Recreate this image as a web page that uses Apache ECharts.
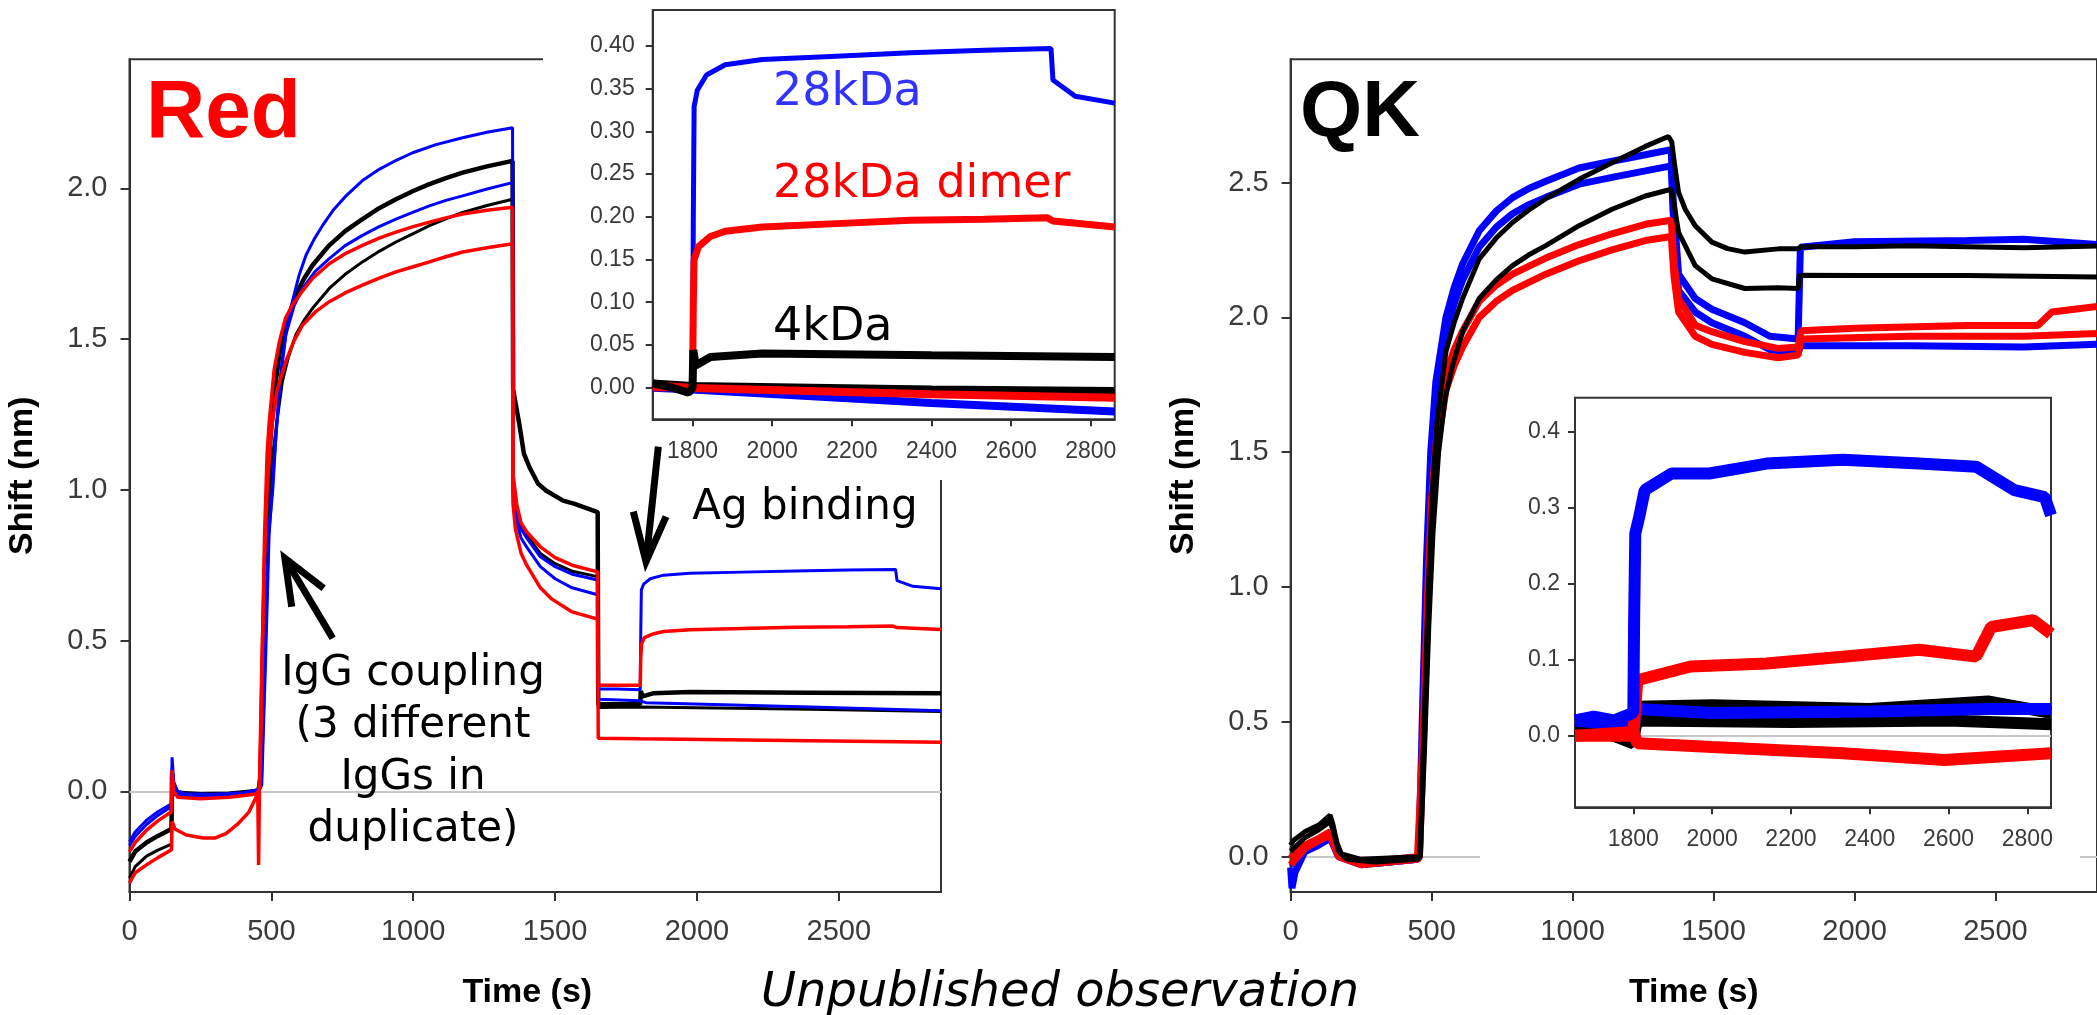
<!DOCTYPE html>
<html>
<head>
<meta charset="utf-8">
<script src="https://cdn.jsdelivr.net/npm/echarts@6/dist/echarts.min.js"></script>
<style>
  html, body { margin: 0; padding: 0; background: #fff; }
  #chart { width: 2097px; height: 1015px; }
</style>
</head>
<body>
<div id="chart"></div>
<script>
// ---- tick values ----
var mainTimeTicks = [0, 500, 1000, 1500, 2000, 2500];
var insetTimeTicks = [1800, 2000, 2200, 2400, 2600, 2800];
var redShiftTicks = [0, 0.5, 1, 1.5, 2];
var qkShiftTicks = [0, 0.5, 1, 1.5, 2, 2.5];
var redInsetTicks = [0, 0.05, 0.1, 0.15, 0.2, 0.25, 0.3, 0.35, 0.4];
var qkInsetTicks = [0, 0.1, 0.2, 0.3, 0.4];

// ---- "Red" panel, [time s, shift nm] ----
var redBlueA = [[0,-0.167],[20,-0.135],[60,-0.096],[100,-0.068],[148,-0.041],[150,0.113],[156,0.03],[170,0.0],[200,-0.008],[300,-0.01],[400,-0.005],[455,0.005],[465,0.03],[478,0.45],[490,0.85],[505,1.0],[516,1.18],[527,1.32],[539,1.44],[555,1.54],[574,1.624],[597,1.71],[622,1.778],[650,1.83],[680,1.876],[720,1.93],[763,1.975],[820,2.025],[880,2.063],[940,2.093],[998,2.118],[1080,2.145],[1174,2.168],[1260,2.186],[1350,2.201],[1352,0.98],[1365,0.91],[1380,0.87],[1400,0.84],[1448,0.778],[1500,0.745],[1560,0.72],[1650,0.701],[1652,0.339],[1720,0.339],[1800,0.337],[1802,0.54],[1804,0.668],[1812,0.687],[1835,0.705],[1882,0.717],[1975,0.723],[2161,0.727],[2347,0.731],[2533,0.734],[2700,0.736],[2705,0.699],[2761,0.68],[2860,0.672]];
var redBlueB = [[0,-0.18],[20,-0.15],[60,-0.11],[100,-0.08],[148,-0.05],[150,0.08],[156,0.01],[170,-0.01],[250,-0.02],[350,-0.015],[440,-0.008],[455,0.0],[466,0.02],[480,0.45],[492,0.85],[510,1.1],[530,1.35],[551,1.514],[580,1.61],[610,1.668],[655,1.725],[704,1.767],[760,1.81],[821,1.844],[880,1.873],[939,1.898],[1000,1.921],[1057,1.942],[1115,1.96],[1174,1.975],[1260,1.998],[1350,2.019],[1352,0.96],[1365,0.89],[1380,0.84],[1400,0.81],[1448,0.745],[1500,0.705],[1560,0.675],[1650,0.652],[1652,0.305],[1800,0.3],[1820,0.294],[2400,0.28],[2860,0.267]];
var redBlackA = [[0,-0.233],[20,-0.2],[60,-0.17],[100,-0.148],[148,-0.125],[150,0.06],[156,0.0],[170,-0.005],[250,-0.01],[350,-0.008],[440,0.0],[455,0.005],[462,0.05],[472,0.5],[482,0.9],[495,1.15],[510,1.32],[530,1.46],[555,1.56],[586,1.646],[615,1.70],[645,1.745],[704,1.811],[760,1.858],[821,1.898],[880,1.934],[939,1.964],[1000,1.991],[1057,2.014],[1115,2.034],[1174,2.052],[1260,2.073],[1350,2.091],[1352,1.333],[1374,1.217],[1390,1.12],[1410,1.074],[1440,1.02],[1469,0.997],[1528,0.964],[1566,0.954],[1650,0.926],[1652,0.289],[1800,0.289],[1802,0.333],[1808,0.315],[1845,0.325],[1975,0.329],[2400,0.327],[2860,0.325]];
var redBlackB = [[0,-0.288],[20,-0.25],[60,-0.215],[100,-0.195],[148,-0.175],[150,0.04],[156,-0.01],[170,-0.012],[250,-0.015],[350,-0.012],[440,-0.005],[455,0.0],[463,0.02],[474,0.45],[485,0.85],[500,1.08],[520,1.23],[539,1.36],[560,1.44],[586,1.514],[615,1.562],[645,1.602],[704,1.668],[760,1.715],[821,1.756],[880,1.791],[939,1.822],[1000,1.85],[1057,1.876],[1115,1.899],[1174,1.92],[1260,1.943],[1350,1.964],[1352,1.0],[1365,0.93],[1380,0.88],[1400,0.85],[1448,0.789],[1500,0.755],[1560,0.73],[1650,0.712],[1652,0.278],[1800,0.28],[2400,0.272],[2860,0.265]];
var redRedA = [[0,-0.2],[20,-0.17],[60,-0.129],[100,-0.098],[148,-0.068],[150,0.07],[156,0.0],[170,-0.02],[250,-0.025],[350,-0.02],[440,-0.01],[455,0.0],[460,0.05],[468,0.45],[476,0.85],[485,1.12],[492,1.22],[510,1.4],[528,1.49],[550,1.57],[574,1.613],[610,1.66],[645,1.701],[704,1.75],[760,1.783],[821,1.811],[880,1.835],[939,1.855],[1000,1.873],[1057,1.888],[1115,1.902],[1174,1.915],[1260,1.927],[1350,1.937],[1352,1.05],[1365,0.95],[1380,0.89],[1400,0.86],[1448,0.811],[1500,0.775],[1560,0.75],[1650,0.728],[1652,0.352],[1800,0.352],[1802,0.45],[1805,0.49],[1815,0.51],[1845,0.522],[1882,0.53],[1975,0.536],[2161,0.54],[2347,0.544],[2533,0.546],[2690,0.548],[2705,0.543],[2860,0.537]];
var redRedB = [[0,-0.304],[20,-0.27],[60,-0.244],[100,-0.22],[148,-0.194],[150,-0.1],[160,-0.125],[200,-0.145],[260,-0.155],[300,-0.155],[340,-0.14],[380,-0.11],[420,-0.07],[446,-0.02],[452,0.0],[455,-0.244],[458,0.02],[466,0.4],[475,0.75],[485,1.0],[500,1.2],[520,1.33],[551,1.426],[580,1.495],[610,1.547],[655,1.59],[704,1.624],[760,1.653],[821,1.679],[880,1.702],[939,1.723],[1000,1.74],[1057,1.756],[1115,1.773],[1174,1.789],[1260,1.803],[1350,1.816],[1352,0.95],[1360,0.87],[1380,0.79],[1400,0.75],[1448,0.675],[1485,0.64],[1560,0.595],[1650,0.571],[1652,0.176],[1800,0.174],[2400,0.168],[2860,0.163]];

// ---- "Red" inset (Ag binding) ----
var agBlue28 = [[1700,0.0],[1750,0.0],[1790,0.0],[1800,0.002],[1802,0.2],[1804,0.329],[1812,0.348],[1835,0.366],[1882,0.378],[1975,0.384],[2161,0.388],[2347,0.392],[2533,0.395],[2700,0.397],[2705,0.36],[2761,0.341],[2860,0.333]];
var agRedDimer = [[1700,0.0],[1800,0.0],[1802,0.1],[1804,0.15],[1815,0.165],[1845,0.177],[1882,0.183],[1975,0.188],[2161,0.192],[2347,0.196],[2533,0.197],[2690,0.199],[2705,0.195],[2860,0.188]];
var agBlack4 = [[1700,0.005],[1750,0.0],[1790,-0.006],[1800,0.0],[1802,0.044],[1808,0.026],[1845,0.036],[1975,0.04],[2400,0.038],[2860,0.036]];
var agBlackRef = [[1700,0.005],[1800,0.002],[2400,-0.002],[2860,-0.004]];
var agRedRef = [[1700,0.003],[1800,-0.0005],[2400,-0.0078],[2860,-0.0117]];
var agBlueRef = [[1700,0.0],[1800,-0.002],[2400,-0.018],[2860,-0.028]];

// ---- "QK" panel ----
var qkBlueA = [[0,-0.04],[5,-0.117],[15,-0.06],[50,0.018],[100,0.043],[140,0.068],[150,0.05],[170,0.0],[250,-0.03],[350,-0.02],[450,-0.01],[455,0.0],[468,0.55],[482,1.1],[497,1.5],[515,1.76],[551,2.0],[580,2.11],[610,2.198],[669,2.321],[730,2.395],[787,2.444],[845,2.478],[905,2.505],[1023,2.554],[1140,2.579],[1258,2.603],[1350,2.622],[1356,2.45],[1376,2.16],[1435,2.07],[1494,2.03],[1611,1.98],[1700,1.93],[1800,1.92],[1808,2.26],[2000,2.28],[2400,2.285],[2600,2.29],[2860,2.27]];
var qkBlueB = [[0,-0.02],[20,-0.03],[50,0.03],[100,0.05],[140,0.07],[170,0.0],[300,-0.025],[450,-0.01],[457,0.0],[470,0.5],[485,1.05],[500,1.45],[515,1.68],[551,1.94],[580,2.05],[610,2.138],[669,2.261],[730,2.335],[787,2.384],[845,2.418],[905,2.445],[1023,2.494],[1140,2.519],[1258,2.543],[1350,2.562],[1356,2.4],[1376,2.1],[1435,2.02],[1494,1.98],[1611,1.93],[1700,1.88],[1800,1.87],[1810,1.895],[2200,1.895],[2600,1.89],[2860,1.9]];
var qkRedA = [[0,-0.006],[50,0.043],[100,0.068],[140,0.092],[150,0.07],[170,0.01],[250,-0.02],[350,-0.01],[450,0.0],[456,0.0],[470,0.45],[485,0.95],[500,1.33],[520,1.58],[551,1.79],[580,1.88],[610,1.95],[669,2.06],[730,2.12],[787,2.16],[905,2.22],[1023,2.27],[1140,2.31],[1258,2.345],[1350,2.36],[1360,2.2],[1376,2.07],[1435,1.971],[1494,1.947],[1611,1.91],[1729,1.885],[1800,1.89],[1810,1.95],[2000,1.96],[2400,1.97],[2650,1.97],[2700,2.02],[2860,2.04]];
var qkRedB = [[0,-0.03],[50,0.03],[100,0.06],[140,0.08],[170,0.0],[250,-0.03],[350,-0.02],[450,-0.01],[457,0.0],[471,0.42],[486,0.9],[501,1.28],[520,1.52],[551,1.73],[580,1.82],[610,1.89],[669,2.0],[730,2.06],[787,2.1],[905,2.16],[1023,2.21],[1140,2.25],[1258,2.285],[1350,2.3],[1360,2.15],[1376,2.02],[1435,1.93],[1494,1.9],[1611,1.87],[1729,1.85],[1800,1.86],[1810,1.92],[2200,1.93],[2600,1.93],[2860,1.94]];
var qkBlackA = [[0,0.043],[10,0.06],[50,0.092],[100,0.117],[140,0.154],[150,0.12],[165,0.05],[180,0.01],[250,-0.01],[350,-0.005],[450,0.0],[458,0.0],[472,0.45],[487,0.95],[502,1.35],[520,1.62],[551,1.873],[580,1.98],[610,2.07],[669,2.217],[730,2.295],[787,2.352],[845,2.398],[905,2.44],[1023,2.512],[1140,2.573],[1258,2.634],[1340,2.671],[1352,2.65],[1360,2.58],[1376,2.463],[1400,2.4],[1435,2.34],[1494,2.279],[1550,2.255],[1611,2.242],[1729,2.254],[1800,2.254],[1810,2.262],[2000,2.262],[2200,2.266],[2400,2.262],[2600,2.258],[2860,2.265]];
var qkBlackB = [[0,0.02],[50,0.07],[100,0.1],[140,0.13],[150,0.1],[170,0.02],[200,-0.01],[300,-0.02],[450,-0.01],[460,0.0],[475,0.4],[490,0.85],[505,1.2],[525,1.5],[548,1.7],[575,1.824],[610,1.947],[669,2.07],[730,2.14],[787,2.192],[845,2.232],[905,2.266],[1023,2.34],[1140,2.401],[1258,2.45],[1350,2.475],[1360,2.42],[1376,2.315],[1435,2.192],[1494,2.143],[1611,2.107],[1729,2.11],[1800,2.107],[1805,2.156],[2000,2.155],[2400,2.155],[2860,2.15]];

// ---- "QK" inset ----
var qkiBlueA = [[1652,0.02],[1700,0.025],[1750,0.02],[1800,0.03],[1802,0.15],[1805,0.266],[1815,0.288],[1829,0.323],[1897,0.345],[1993,0.345],[2138,0.358],[2331,0.363],[2525,0.358],[2670,0.354],[2767,0.323],[2844,0.314],[2860,0.29]];
var qkiBlueB = [[1652,0.02],[1750,0.015],[1800,0.01],[1810,0.035],[2000,0.03],[2400,0.032],[2700,0.035],[2860,0.035]];
var qkiBlackA = [[1652,0.01],[1750,0.0],[1800,-0.01],[1810,0.038],[2000,0.04],[2400,0.035],[2700,0.045],[2860,0.03]];
var qkiBlackB = [[1652,0.005],[1800,0.0],[1810,0.02],[2200,0.018],[2600,0.02],[2860,0.015]];
var qkiRedA = [[1652,0.0],[1750,0.0],[1800,0.0],[1810,0.073],[1945,0.091],[2138,0.095],[2331,0.104],[2525,0.113],[2670,0.104],[2708,0.143],[2815,0.152],[2860,0.134]];
var qkiRedB = [[1652,0.0],[1800,0.005],[1810,-0.01],[2000,-0.015],[2331,-0.023],[2590,-0.032],[2860,-0.023]];

var BLUE = '#0000ff', RED = '#ff0000', BLACK = '#000000';
var AXIS = '#333333', LABEL = '#3a3a3a';
var FONT = '"Liberation Sans", Arial, sans-serif', DV = '"DejaVu Sans", sans-serif';

function line(data, color, width, idx, z) {
  return {
    type: 'line', data: data, xAxisIndex: idx, yAxisIndex: idx,
    showSymbol: false, symbol: 'none', silent: true, animation: false, z: z,
    lineStyle: { color: color, width: width }
  };
}

// grey reference line at 0
function zeroLine(s, z) {
  s.markLine = {
    silent: true, symbol: 'none', z: z, animation: false,
    label: { show: false },
    lineStyle: { color: '#c8c8c8', width: 2, type: 'solid' },
    data: [{ yAxis: 0 }]
  };
  return s;
}

function axis(idx, min, max, ticks, opt) {
  var a = {
    type: 'value', gridIndex: idx, min: min, max: max, z: opt.z || 0,
    splitLine: { show: false },
    axisLine: { show: true, onZero: false, lineStyle: { color: AXIS, width: 2 } },
    axisTick: { show: true, length: opt.tick, customValues: ticks, lineStyle: { color: AXIS, width: 2 } },
    axisLabel: { customValues: ticks, fontSize: opt.fs, color: LABEL, fontFamily: FONT, margin: opt.margin,
                 formatter: opt.fmt || function (v) { return String(v); } }
  };
  if (opt.name) {
    a.name = opt.name;
    a.nameLocation = 'middle';
    a.nameGap = opt.nameGap;
    a.nameTextStyle = { fontSize: 34, fontWeight: 'bold', color: '#000', fontFamily: FONT, padding: opt.namePad || 0 };
  }
  return a;
}

var chart = echarts.init(document.getElementById('chart'));

var series = [
  zeroLine(line(redBlackA, BLACK, 4.5, 0, 2), 1),
  line(redBlackB, BLACK, 3, 0, 2),
  line(redBlueA, BLUE, 3, 0, 2),
  line(redBlueB, BLUE, 3, 0, 2),
  line(redRedA, RED, 3.5, 0, 2),
  line(redRedB, RED, 3.5, 0, 2),

  zeroLine(line(agBlueRef, BLUE, 8, 1, 8), 7),
  line(agBlackRef, BLACK, 8, 1, 8),
  line(agRedRef, RED, 8, 1, 8),
  line(agBlue28, BLUE, 5, 1, 8),
  line(agRedDimer, RED, 7, 1, 8),
  line(agBlack4, BLACK, 8, 1, 8),

  zeroLine(line(qkBlueA, BLUE, 7, 2, 2), 1),
  line(qkBlueB, BLUE, 7, 2, 2),
  line(qkRedA, RED, 7, 2, 2),
  line(qkRedB, RED, 7, 2, 2),
  line(qkBlackB, BLACK, 5, 2, 2),
  line(qkBlackA, BLACK, 5, 2, 2),

  zeroLine(line(qkiBlackB, BLACK, 12, 3, 8), 7),
  line(qkiBlackA, BLACK, 12, 3, 8),
  line(qkiBlueB, BLUE, 12, 3, 8),
  line(qkiRedB, RED, 12, 3, 8),
  line(qkiRedA, RED, 12, 3, 8),
  line(qkiBlueA, BLUE, 12, 3, 8)
];

var f1 = function (v) { return v.toFixed(1); };
var f2 = function (v) { return v.toFixed(2); };

chart.setOption({
  backgroundColor: '#ffffff',
  animation: false,
  grid: [
    { left: 129.5, top: 59.3, width: 811.5, height: 838, show: true, borderColor: AXIS, borderWidth: 2, z: 0 },
    { left: 652.7, top: 10, width: 462, height: 409.3, show: true, borderColor: AXIS, borderWidth: 2, backgroundColor: '#fff', z: 6 },
    { left: 1290.6, top: 59.3, width: 811.5, height: 838, show: true, borderColor: AXIS, borderWidth: 2, z: 0 },
    { left: 1575, top: 397.7, width: 476, height: 409.6, show: true, borderColor: AXIS, borderWidth: 2, backgroundColor: '#fff', z: 6 }
  ],
  xAxis: [
    axis(0, 0, 2860, mainTimeTicks, { tick: 9, fs: 29, margin: 25, name: 'Time (s)', nameGap: 84, namePad: [0, 16, 0, 0] }),
    axis(1, 1700, 2860, insetTimeTicks, { tick: 7, fs: 23, margin: 21, z: 7 }),
    axis(2, 0, 2860, mainTimeTicks, { tick: 9, fs: 29, margin: 25, name: 'Time (s)', nameGap: 84 }),
    axis(3, 1652, 2860, insetTimeTicks, { tick: 7, fs: 23, margin: 21, z: 7 })
  ],
  yAxis: [
    axis(0, -0.334, 2.428, redShiftTicks, { tick: 9, fs: 29, margin: 22, fmt: f1, name: 'Shift (nm)', nameGap: 90 }),
    axis(1, -0.037, 0.442, redInsetTicks, { tick: 7, fs: 23, margin: 18, fmt: f2, z: 7 }),
    axis(2, -0.131, 2.957, qkShiftTicks, { tick: 9, fs: 29, margin: 22, fmt: f1, name: 'Shift (nm)', nameGap: 90 }),
    axis(3, -0.0942, 0.4447, qkInsetTicks, { tick: 7, fs: 23, margin: 15, fmt: f1, z: 7 })
  ],
  series: series,
  graphic: [
    // white backing behind the two insets
    { type: 'rect', silent: true, z: 5, shape: { x: 543, y: 0, width: 582, height: 480 }, style: { fill: '#fff' } },
    { type: 'rect', silent: true, z: 5, shape: { x: 1480, y: 385, width: 600, height: 490 }, style: { fill: '#fff' } },
    // panel titles
    { type: 'text', z: 10, x: 146, y: 114, style: { text: 'Red', fill: RED, font: 'bold 82px ' + FONT, textVerticalAlign: 'middle' } },
    { type: 'text', z: 10, x: 1300, y: 114, style: { text: 'QK', fill: BLACK, font: 'bold 80px ' + FONT, textVerticalAlign: 'middle' } },
    // inset labels
    { type: 'text', z: 10, x: 773, y: 93, style: { text: '28kDa', fill: '#3333ff', font: '46px ' + DV, textVerticalAlign: 'middle' } },
    { type: 'text', z: 10, x: 773, y: 185, style: { text: '28kDa dimer', fill: RED, font: '46px ' + DV, textVerticalAlign: 'middle' } },
    { type: 'text', z: 10, x: 773, y: 328, style: { text: '4kDa', fill: BLACK, font: '46px ' + DV, textVerticalAlign: 'middle' } },
    // annotations
    { type: 'text', z: 10, x: 413, y: 752, style: { text: 'IgG coupling\n(3 different\nIgGs in\nduplicate)', fill: BLACK, font: '42px ' + DV, lineHeight: 52, textAlign: 'center', textVerticalAlign: 'middle' } },
    { type: 'text', z: 10, x: 805, y: 508, style: { text: 'Ag binding', fill: BLACK, font: '42px ' + DV, textAlign: 'center', textVerticalAlign: 'middle' } },
    { type: 'text', z: 10, x: 1060, y: 994, style: { text: 'Unpublished observation', fill: BLACK, font: 'italic 48px ' + DV, textAlign: 'center', textVerticalAlign: 'middle' } },
    // arrows
    { type: 'polyline', z: 10, silent: true, shape: { points: [[332.7, 638.3], [284.9, 558.3]] }, style: { stroke: BLACK, lineWidth: 7, fill: null } },
    { type: 'polyline', z: 10, silent: true, shape: { points: [[291.7, 606.7], [284.9, 558.3], [323.6, 588.3]] }, style: { stroke: BLACK, lineWidth: 7, fill: null, lineJoin: 'miter' } },
    { type: 'polyline', z: 10, silent: true, shape: { points: [[658.3, 446.7], [646, 561.7]] }, style: { stroke: BLACK, lineWidth: 7, fill: null } },
    { type: 'polyline', z: 10, silent: true, shape: { points: [[633.3, 511.7], [646, 561.7], [666, 516.7]] }, style: { stroke: BLACK, lineWidth: 7, fill: null, lineJoin: 'miter' } }
  ]
});
</script>
</body>
</html>
